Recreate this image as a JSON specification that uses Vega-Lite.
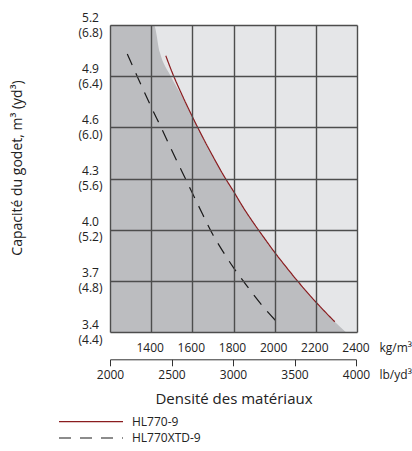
{
  "$schema": "https://vega.github.io/schema/vega-lite/v6.json",
  "autosize": {"type": "none"},
  "padding": {"left": 110, "top": 25, "right": 55, "bottom": 119},
  "width": 247,
  "height": 307,
  "datasets": {
    "zone": [
      {"kg": 1200, "m3": 5.2},
      {"kg": 1413, "m3": 5.2},
      {"kg": 1442, "m3": 5.04},
      {"kg": 1495, "m3": 4.9},
      {"kg": 1555, "m3": 4.77},
      {"kg": 1600, "m3": 4.66},
      {"kg": 1650, "m3": 4.54},
      {"kg": 1700, "m3": 4.43},
      {"kg": 1750, "m3": 4.32},
      {"kg": 1800, "m3": 4.225},
      {"kg": 1850, "m3": 4.125},
      {"kg": 1900, "m3": 4.035},
      {"kg": 1950, "m3": 3.95},
      {"kg": 2000, "m3": 3.867},
      {"kg": 2050, "m3": 3.79},
      {"kg": 2100, "m3": 3.715},
      {"kg": 2150, "m3": 3.644},
      {"kg": 2200, "m3": 3.576},
      {"kg": 2250, "m3": 3.512},
      {"kg": 2292, "m3": 3.46},
      {"kg": 2345, "m3": 3.4}
    ],
    "curves": [
      {"series": "HL770-9", "kg": 1471, "m3": 5.02},
      {"series": "HL770-9", "kg": 1500, "m3": 4.928},
      {"series": "HL770-9", "kg": 1550, "m3": 4.79},
      {"series": "HL770-9", "kg": 1600, "m3": 4.663},
      {"series": "HL770-9", "kg": 1650, "m3": 4.543},
      {"series": "HL770-9", "kg": 1700, "m3": 4.43},
      {"series": "HL770-9", "kg": 1750, "m3": 4.322},
      {"series": "HL770-9", "kg": 1800, "m3": 4.225},
      {"series": "HL770-9", "kg": 1850, "m3": 4.125},
      {"series": "HL770-9", "kg": 1900, "m3": 4.035},
      {"series": "HL770-9", "kg": 1950, "m3": 3.95},
      {"series": "HL770-9", "kg": 2000, "m3": 3.867},
      {"series": "HL770-9", "kg": 2050, "m3": 3.79},
      {"series": "HL770-9", "kg": 2100, "m3": 3.715},
      {"series": "HL770-9", "kg": 2150, "m3": 3.644},
      {"series": "HL770-9", "kg": 2200, "m3": 3.576},
      {"series": "HL770-9", "kg": 2250, "m3": 3.512},
      {"series": "HL770-9", "kg": 2292, "m3": 3.46},
      {"series": "HL770XTD-9", "kg": 1284, "m3": 5.03},
      {"series": "HL770XTD-9", "kg": 1332, "m3": 4.9},
      {"series": "HL770XTD-9", "kg": 1400, "m3": 4.72},
      {"series": "HL770XTD-9", "kg": 1450, "m3": 4.595},
      {"series": "HL770XTD-9", "kg": 1500, "m3": 4.465},
      {"series": "HL770XTD-9", "kg": 1550, "m3": 4.34},
      {"series": "HL770XTD-9", "kg": 1600, "m3": 4.215},
      {"series": "HL770XTD-9", "kg": 1650, "m3": 4.09},
      {"series": "HL770XTD-9", "kg": 1700, "m3": 3.97},
      {"series": "HL770XTD-9", "kg": 1750, "m3": 3.87},
      {"series": "HL770XTD-9", "kg": 1800, "m3": 3.777},
      {"series": "HL770XTD-9", "kg": 1850, "m3": 3.695},
      {"series": "HL770XTD-9", "kg": 1900, "m3": 3.615},
      {"series": "HL770XTD-9", "kg": 1950, "m3": 3.54},
      {"series": "HL770XTD-9", "kg": 2014, "m3": 3.455}
    ],
    "lbaxis": [
      {"lb": 2000},
      {"lb": 4000}
    ]
  },
  "resolve": {"scale": {"x": "independent"}, "axis": {"x": "independent"}},
  "layer": [
    {
      "layer": [
        {
          "data": {"name": "zone"},
          "mark": {"type": "area", "color": "#bcbdc0", "interpolate": "monotone"},
          "encoding": {
            "x": {
              "field": "kg",
              "type": "quantitative",
              "scale": {"domain": [1200, 2400], "nice": false, "zero": false},
              "axis": {
                "orient": "bottom",
                "values": [1200, 1400, 1600, 1800, 2000, 2200, 2400],
                "format": "d",
                "labelExpr": "datum.value == 1200 ? '' : datum.label",
                "grid": true,
                "gridColor": "#4d4d4d",
                "gridWidth": 1.4,
                "gridOpacity": 1,
                "domain": false,
                "ticks": false,
                "tickSize": 0,
                "labelPadding": 15,
                "labelBaseline": "middle",
                "labelOffset": -1.5,
                "labelFlush": false,
                "labelOverlap": false,
                "labelFont": "Open Sans",
                "labelFontSize": 12,
                "labelColor": "#222222",
                "title": "kg/m³",
                "titleX": 269,
                "titleY": 15,
                "titleAlign": "left",
                "titleBaseline": "middle",
                "titleFont": "Open Sans",
                "titleFontSize": 12,
                "titleFontWeight": "normal",
                "titleColor": "#222222",
                "zindex": 1
              }
            },
            "y": {
              "field": "m3",
              "type": "quantitative",
              "scale": {"domain": [3.4, 5.2], "nice": false, "zero": false},
              "axis": {
                "values": [3.4, 3.7, 4.0, 4.3, 4.6, 4.9, 5.2],
                "format": ".1f",
                "labelExpr": "[datum.label, '(' + format(datum.value * 1.308, '.1f') + ')']",
                "grid": true,
                "gridColor": "#4d4d4d",
                "gridWidth": 1.4,
                "gridOpacity": 1,
                "domain": false,
                "ticks": false,
                "tickSize": 0,
                "labelPadding": 20,
                "labelAlign": "center",
                "labelBaseline": "middle",
                "labelLineHeight": 15,
                "labelOffset": -8,
                "labelOverlap": false,
                "labelFont": "Open Sans",
                "labelFontSize": 12,
                "labelColor": "#222222",
                "title": "Capacité du godet, m³ (yd³)",
                "titleX": -92.5,
                "titleY": 142.5,
                "titleAngle": -90,
                "titleAlign": "center",
                "titleBaseline": "middle",
                "titleFont": "Open Sans",
                "titleFontSize": 14,
                "titleFontWeight": "normal",
                "titleColor": "#222222",
                "zindex": 1
              }
            },
            "y2": {"datum": 3.4}
          }
        },
        {
          "data": {"name": "curves"},
          "mark": {"type": "line", "strokeWidth": 1.2, "interpolate": "monotone"},
          "encoding": {
            "x": {"field": "kg", "type": "quantitative"},
            "y": {"field": "m3", "type": "quantitative"},
            "color": {
              "field": "series",
              "type": "nominal",
              "scale": {"domain": ["HL770-9", "HL770XTD-9"], "range": ["#8a1c1f", "#1a1a1a"]},
              "legend": {
                "orient": "none",
                "legendX": -28,
                "legendY": 387.7,
                "title": null,
                "padding": 0,
                "symbolType": "M-4,0H4",
                "symbolSize": 256,
                "symbolStrokeWidth": 1.2,
                "labelOffset": 32,
                "rowPadding": 1.3,
                "labelFont": "Open Sans",
                "labelFontSize": 12,
                "labelColor": "#222222"
              }
            },
            "strokeDash": {
              "field": "series",
              "type": "nominal",
              "scale": {"domain": ["HL770-9", "HL770XTD-9"], "range": [[1, 0], [12, 9]]},
              "legend": null
            }
          }
        }
      ]
    },
    {
      "data": {"name": "lbaxis"},
      "mark": {"type": "point", "opacity": 0},
      "encoding": {
        "x": {
          "field": "lb",
          "type": "quantitative",
          "scale": {"domain": [2000, 4000], "range": [0, 246], "nice": false, "zero": false},
          "axis": {
            "orient": "bottom",
            "offset": 27.3,
            "values": [2000, 2500, 3000, 3500, 4000],
            "format": "d",
            "grid": false,
            "domain": true,
            "domainColor": "#333333",
            "domainWidth": 1,
            "ticks": true,
            "tickColor": "#333333",
            "tickSize": 6.5,
            "tickWidth": 1,
            "labelPadding": 8.5,
            "labelBaseline": "middle",
            "labelFlush": false,
            "labelOverlap": false,
            "labelFont": "Open Sans",
            "labelFontSize": 12,
            "labelColor": "#222222",
            "title": "lb/yd³",
            "titleX": 269,
            "titleY": 15,
            "titleAlign": "left",
            "titleBaseline": "middle",
            "titleFont": "Open Sans",
            "titleFontSize": 12,
            "titleFontWeight": "normal",
            "titleColor": "#222222"
          }
        }
      }
    },
    {
      "data": {"name": "lbaxis"},
      "mark": {"type": "point", "opacity": 0},
      "encoding": {
        "x": {
          "field": "lb",
          "type": "quantitative",
          "scale": {"domain": [2000, 4000], "nice": false, "zero": false},
          "axis": {
            "orient": "bottom",
            "grid": false,
            "domain": false,
            "ticks": false,
            "labels": false,
            "title": "Densité des matériaux",
            "titleX": 123.5,
            "titleY": 66,
            "titleAlign": "center",
            "titleBaseline": "middle",
            "titleFont": "Open Sans",
            "titleFontSize": 15,
            "titleFontWeight": "normal",
            "titleColor": "#222222"
          }
        }
      }
    }
  ],
  "config": {
    "view": {"fill": "#e5e6e8", "stroke": null}
  }
}
